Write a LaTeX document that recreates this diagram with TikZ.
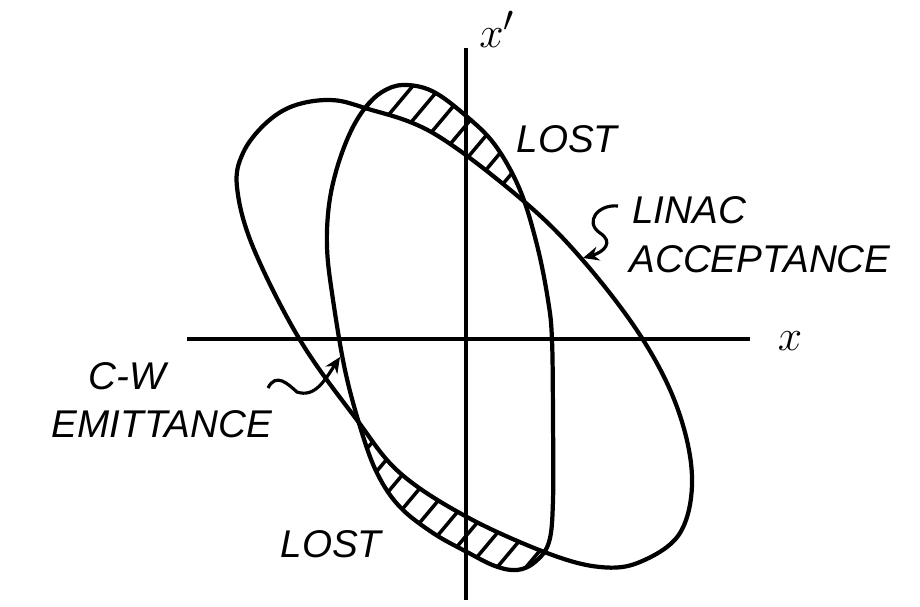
\documentclass[tikz,border=0pt]{standalone}
\usepackage{fontspec}
\setmainfont{Liberation Sans}
\usetikzlibrary{arrows.meta}
\newcommand\accpath{plot[smooth cycle, tension=0.6] coordinates {(237,187) (243,153) (265,124) (293,106) (330,100) (365,108) (433,133) (520,198) (580,257) (640,335) (677,407) (692,477) (680,533) (640,562) (600,567) (547,553) (467,517) (400,473) (357,420) (300,340) (253,247)}}
\newcommand\cwpath{plot[smooth cycle, tension=0.6] coordinates {(403,85) (432,91) (465,115) (495,145) (520,190) (537,245) (548,300) (552,340) (553,420) (553,500) (549,542) (535,562) (517,570) (495,566) (467,552) (433,533) (400,507) (378,475) (362,433) (345,370) (332,293) (327,247) (329,205) (337,168) (350,133) (365,108) (382,92)}}
\begin{document}
\begin{tikzpicture}[x=0.02cm, y=-0.02cm,
  curve/.style={line width=2.4pt, line join=round},
  axisline/.style={line width=1.8pt},
  hatchline/.style={line width=2pt},
  lbl/.style={inner sep=0pt, font=\itshape\fontsize{22}{22}\selectfont},
  pointer/.style={line width=1.8pt, -{Stealth[length=9pt, width=8pt]}}]
\useasboundingbox (0,0) rectangle (920,606);
% hatching of lost regions
\begin{scope}
  \clip \cwpath;
  \begin{scope}[rotate around={-40:(464,333)}]
    \foreach \k in {-18,...,18} {
      \draw[hatchline] ({464+\k*22},-300) -- ({464+\k*22},900);
    }
  \end{scope}
\end{scope}
\fill[white] \accpath;
% axes
\coordinate (vtop) at (466,48);
\coordinate (vbot) at (466,600);
\coordinate (hleft) at (187,339);
\coordinate (hright) at (750,339);
\draw[axisline] (vtop) -- (vbot);
\draw[axisline] (hleft) -- (hright);
% ellipses
\draw[curve] \accpath;
\draw[curve] \cwpath;
% labels
\node[anchor=base, inner sep=0pt] (xp) at (497,47) {\fontsize{30}{30}\selectfont$x'$};
\node[anchor=base, inner sep=0pt] (xx) at (790,350) {\fontsize{40}{40}\selectfont$x$};
\node[lbl] (lost1) at (567,139) {LOST};
\node[lbl, anchor=west] (linac) at (632,210) {LINAC};
\node[lbl, anchor=west] (accept) at (629,259) {ACCEPTANCE};
\node[lbl] (cw) at (127,376) {C-W};
\node[lbl] (emit) at (162,424) {EMITTANCE};
\node[lbl] (lost2) at (331,544) {LOST};
% pointers
\coordinate (la) at (618,206);
\coordinate (lb) at (600,233);
\coordinate (ltip) at (583,258);
\draw[pointer] (la) .. controls (598,204) and (584,222) .. (lb) .. controls (614,242) and (604,252) .. (ltip);
\coordinate (ca) at (268,388);
\coordinate (cb) at (297,392);
\coordinate (ctip) at (340,357);
\draw[pointer] (ca) .. controls (276,372) and (288,384) .. (cb) .. controls (315,398) and (325,380) .. (ctip);
\end{tikzpicture}
\end{document}
